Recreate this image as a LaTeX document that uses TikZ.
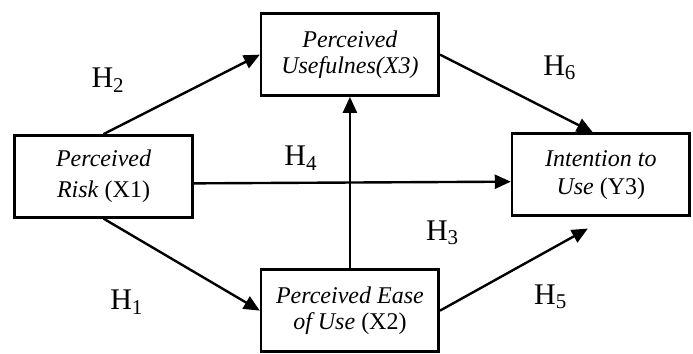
\documentclass[tikz,border=0pt]{standalone}
\usepackage{fontspec}
\setmainfont{Liberation Serif}
\usetikzlibrary{arrows.meta,positioning,calc}

\begin{document}
\begin{tikzpicture}[
    block/.style={draw,line width=1.3pt,align=center,minimum width=3.12cm,minimum height=1.44cm,inner sep=2pt,font=\fontsize{12}{13}\selectfont},
    hyp/.style={font=\fontsize{15}{18}\selectfont,inner sep=0pt},
    arrow/.style={-{Triangle[length=8pt,width=7pt]},line width=1.2pt}
]
\useasboundingbox (0,0) rectangle (12.18,6.22);
\node[block] (risk) at (1.82,3.12) {\textit{Perceived}\\[2.5pt]\textit{Risk} (X1)};
\node[block] (useful) at (6.15,5.26) {\textit{Perceived}\\\textit{Usefulnes(X3)}};
\node[block] (ease) at (6.15,0.76) {\textit{Perceived Ease}\\\textit{of Use} (X2)};
\node[block] (intent) at (10.56,3.15) {\textit{Intention to}\\[1pt]\textit{Use} (Y3)};
\draw[arrow] (risk.north) -- (useful.west);
\draw[arrow] ([yshift=-3.5pt]risk.east) -- ([yshift=-3.5pt]intent.west);
\draw[arrow] (risk.south) -- (ease.west);
\draw[arrow] (ease.north) -- (useful.south);
\draw[arrow] (useful.east) -- ([xshift=-4pt]intent.north);
\draw[arrow,shorten >=12pt] (ease.east) -- ([xshift=4pt]intent.south);
% hypothesis labels
\node[hyp] (h2) at (1.90,4.81) {H\textsubscript{2}};
\node[hyp] (h1) at (2.23,0.91) {H\textsubscript{1}};
\node[hyp] (h4) at (5.29,3.44) {H\textsubscript{4}};
\node[hyp] (h3) at (7.78,2.13) {H\textsubscript{3}};
\node[hyp] (h5) at (9.68,1.00) {H\textsubscript{5}};
\node[hyp] (h6) at (9.84,5.03) {H\textsubscript{6}};
\end{tikzpicture}
\end{document}
